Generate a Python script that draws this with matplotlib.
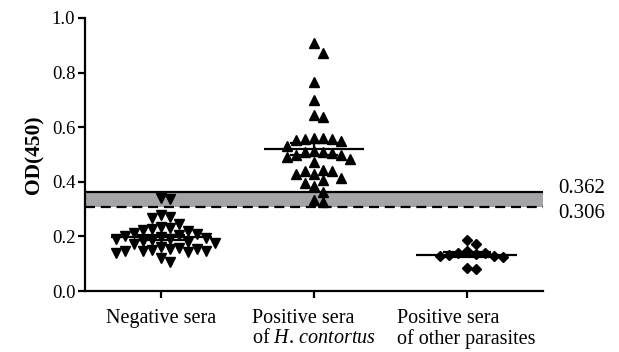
import numpy as np
import matplotlib

matplotlib.use("Agg")
import matplotlib.pyplot as plt

plt.rcParams["font.family"] = ["Liberation Serif", "DejaVu Serif"]
plt.rcParams["mathtext.fontset"] = "custom"
plt.rcParams["mathtext.rm"] = "Liberation Serif"
plt.rcParams["mathtext.it"] = "Liberation Serif:italic"
plt.rcParams["mathtext.bf"] = "Liberation Serif:bold"

# OD450 readings per serum group
group_labels = [
    "Negative sera",
    "Positive sera\nof $\\mathit{H.\\,contortus}$",
    "Positive sera\nof other parasites",
]
negative_sera = [
    0.340, 0.338, 0.278, 0.272, 0.266, 0.245, 0.236, 0.230, 0.226, 0.224,
    0.220, 0.212, 0.210, 0.204, 0.200, 0.198, 0.195, 0.192, 0.190, 0.187,
    0.184, 0.180, 0.176, 0.172, 0.160, 0.157, 0.155, 0.153, 0.150, 0.148,
    0.146, 0.145, 0.143, 0.140, 0.121, 0.108,
]
positive_h_contortus = [
    0.908, 0.872, 0.766, 0.698, 0.643, 0.638, 0.562, 0.560, 0.558, 0.555,
    0.552, 0.550, 0.532, 0.512, 0.510, 0.508, 0.505, 0.500, 0.498, 0.490,
    0.485, 0.474, 0.443, 0.440, 0.438, 0.430, 0.430, 0.413, 0.405, 0.395,
    0.385, 0.362, 0.333, 0.325,
]
other_parasites = [
    0.187, 0.172, 0.145, 0.141, 0.138, 0.135, 0.133, 0.130, 0.127, 0.124,
    0.083, 0.080,
]
cutoff_upper = 0.362
cutoff_lower = 0.306

yticks = [0.0, 0.2, 0.4, 0.6, 0.8, 1.0]
markers = ["v", "^", "D"]
marker_sizes = [7.6, 7.6, 4.8]


def swarm_offsets(values, step, min_dy):
    """Greedy beeswarm: each point takes the free slot closest to the centre."""
    values = np.asarray(values, dtype=float)
    offsets = np.zeros(len(values))
    placed = []
    half = step / 2
    for i in np.argsort(values)[::-1]:
        v = values[i]
        k = 0
        while True:
            cands = [0.0] if k == 0 else [k * half, -k * half]
            done = False
            for c in cands:
                if all(abs(v - pv) >= min_dy or abs(c - px) >= step * 0.999
                       for pv, px in placed):
                    offsets[i] = c
                    placed.append((v, c))
                    done = True
                    break
            if done:
                break
            k += 1
    return offsets


fig = plt.figure(figsize=(6.19, 3.52), dpi=100)
ax = fig.add_axes([85 / 619, 61 / 352, 458 / 619, 273 / 352])
ax.set_xlim(0.5, 3.5)
ax.set_ylim(0, 1.0)

# pixel scale of the axes, used to space the swarm markers
px_x = 458 / 3.0
px_y = 273 / 1.0

# cut-off band
ax.axhspan(cutoff_lower, cutoff_upper, color="#a4a4a8", lw=0, zorder=0)
ax.axhline(cutoff_upper, color="black", lw=1.6, zorder=1)
ax.axhline(cutoff_lower, color="black", lw=1.6, ls=(0, (4.5, 2.6)), zorder=1)

for xi, (vals, mk, ms) in enumerate(
        zip([negative_sera, positive_h_contortus, other_parasites], markers, marker_sizes),
        start=1):
    vals = np.asarray(vals)
    offs = swarm_offsets(vals, step=9.0 / px_x, min_dy=10.0 / px_y)
    ax.plot(xi + offs, vals, ls="none", marker=mk, ms=ms, color="black",
            mec="black", zorder=3)
    mean = vals.mean()
    sem = vals.std(ddof=1) / np.sqrt(len(vals))
    ax.hlines(mean, xi - 0.33, xi + 0.33, color="black", lw=1.6, zorder=4)
    ax.errorbar(xi, mean, yerr=sem, fmt="none", ecolor="black", elinewidth=1.6,
                capsize=17, capthick=1.6, zorder=4)

ax.annotate(f"{cutoff_upper:.3f}", xy=(1, cutoff_upper), xycoords=("axes fraction", "data"),
            xytext=(11, 3), textcoords="offset points", va="center", ha="left",
            fontsize=15, annotation_clip=False)
ax.annotate(f"{cutoff_lower:.3f}", xy=(1, cutoff_lower), xycoords=("axes fraction", "data"),
            xytext=(11, -4), textcoords="offset points", va="center", ha="left",
            fontsize=15, annotation_clip=False)

ax.set_yticks(yticks)
ax.set_yticklabels([f"{t:.1f}" for t in yticks], fontsize=13.5)
ax.set_xticks([1, 2, 3])
ax.set_xticklabels(group_labels, fontsize=14.5, multialignment="left", linespacing=1.1)
ax.set_ylabel("OD(450)", fontsize=15.5, fontweight="bold", labelpad=5)

for side in ["top", "right"]:
    ax.spines[side].set_visible(False)
for side in ["left", "bottom"]:
    ax.spines[side].set_linewidth(1.6)
ax.tick_params(axis="both", width=1.6, length=5, color="black")
ax.tick_params(axis="x", pad=8)
ax.tick_params(axis="y", pad=2)

fig.savefig("out.png", dpi=100)
